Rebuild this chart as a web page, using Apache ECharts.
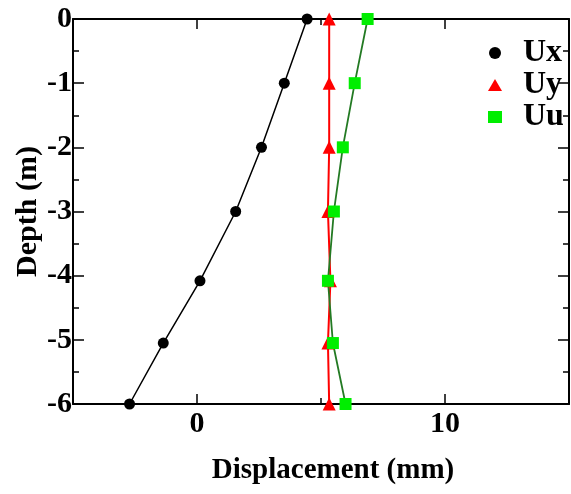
<!DOCTYPE html>
<html><head><meta charset="utf-8">
<script src="https://cdn.jsdelivr.net/npm/echarts@6/dist/echarts.min.js"></script>
<style>html,body{margin:0;padding:0;background:#fff}#c{width:571px;height:494px}</style>
</head><body><div id="c"></div>
<script>
const depths = [0, -1, -2, -3, -4.08, -5.05, -6];
const ux = [4.44, 3.52, 2.6, 1.56, 0.12, -1.36, -2.72];
const uy = [5.33, 5.33, 5.33, 5.28, 5.38, 5.28, 5.33];
const uu = [6.88, 6.36, 5.88, 5.52, 5.28, 5.48, 5.99];
const xMajorTicks = [0, 10];
const xMinorTicks = [5];
const xLabels = [0, 10];

const FONT = '"Liberation Serif", "DejaVu Serif", serif';
const pair = (xs) => xs.map((x, i) => [x, depths[i]]);
const gridRect = {left: 73, right: 2, top: 19, bottom: 90};
const lineStyle = {color: '#000', width: 2};
const axLine = {show: true, onZero: false, lineStyle};

const chart = echarts.init(document.getElementById('c'));
chart.setOption({
  backgroundColor: '#fff',
  animation: false,
  grid: [Object.assign({}, gridRect), Object.assign({}, gridRect)],
  xAxis: [
    {gridIndex: 0, type: 'value', position: 'bottom', min: -5, max: 15,
     axisLine: axLine, splitLine: {show: false},
     axisTick: {show: true, inside: true, length: 10, customValues: xMajorTicks, lineStyle: {color: '#000', width: 1.5}},
     axisLabel: {show: true, customValues: xLabels, margin: 5, color: '#000', fontFamily: FONT, fontWeight: 'bold', fontSize: 30},
     name: 'Displacement (mm)', nameLocation: 'middle', nameGap: 52,
     nameTextStyle: {color: '#000', fontFamily: FONT, fontWeight: 'bold', fontSize: 29, padding: [0, 0, 0, 24]}},
    {gridIndex: 0, type: 'value', position: 'top', min: -5, max: 15,
     axisLine: axLine, splitLine: {show: false},
     axisTick: {show: true, inside: true, length: 10, customValues: xMajorTicks, lineStyle: {color: '#000', width: 1.5}},
     axisLabel: {show: false}},
    {gridIndex: 1, type: 'value', position: 'bottom', min: -5, max: 15,
     axisLine: {show: false, onZero: false}, splitLine: {show: false},
     axisTick: {show: true, inside: true, length: 6, customValues: xMinorTicks, lineStyle: {color: '#000', width: 1.5}},
     axisLabel: {show: false}},
    {gridIndex: 1, type: 'value', position: 'top', min: -5, max: 15,
     axisLine: {show: false, onZero: false}, splitLine: {show: false},
     axisTick: {show: true, inside: true, length: 6, customValues: xMinorTicks, lineStyle: {color: '#000', width: 1.5}},
     axisLabel: {show: false}}
  ],
  yAxis: [
    {gridIndex: 0, type: 'value', position: 'left', min: -6, max: 0, interval: 1,
     axisLine: axLine, splitLine: {show: false},
     axisTick: {show: true, inside: true, length: 11, lineStyle: {color: '#000', width: 1.5}},
     minorTick: {show: true, splitNumber: 2, length: 6, lineStyle: {color: '#000', width: 1.5}},
     axisLabel: {show: true, margin: 1, color: '#000', fontFamily: FONT, fontWeight: 'bold', fontSize: 30},
     name: 'Depth (m)', nameLocation: 'middle', nameGap: 30, nameMoveOverlap: false,
     nameTextStyle: {color: '#000', fontFamily: FONT, fontWeight: 'bold', fontSize: 30}},
    {gridIndex: 0, type: 'value', position: 'right', min: -6, max: 0, interval: 1,
     axisLine: axLine, splitLine: {show: false},
     axisTick: {show: true, inside: true, length: 11, lineStyle: {color: '#000', width: 1.5}},
     minorTick: {show: true, splitNumber: 2, length: 6, lineStyle: {color: '#000', width: 1.5}},
     axisLabel: {show: false}},
    {gridIndex: 1, type: 'value', min: -6, max: 0, show: false}
  ],
  legend: {
    orient: 'vertical', left: 488, top: 37, itemGap: 0, itemWidth: 14, itemHeight: 12, padding: 0,
    textStyle: {color: '#000', fontFamily: FONT, fontWeight: 'bold', fontSize: 32, lineHeight: 28, padding: [0, 0, 0, 16]},
    data: [
      {name: 'Ux', icon: 'circle', itemStyle: {color: '#000'}},
      {name: 'Uy', icon: 'triangle', itemStyle: {color: '#ff0000'}},
      {name: 'Uu', icon: 'rect', itemStyle: {color: '#00ee00'}}
    ]
  },
  series: [
    {name: 'Ux', type: 'line', xAxisIndex: 0, yAxisIndex: 0, data: pair(ux),
     symbol: 'circle', symbolSize: 11, itemStyle: {color: '#000'},
     lineStyle: {color: '#000', width: 1.5}},
    {name: 'Uy', type: 'line', xAxisIndex: 0, yAxisIndex: 0, data: pair(uy),
     symbol: 'triangle', symbolSize: 13, itemStyle: {color: '#ff0000'},
     lineStyle: {color: '#ff0000', width: 2}},
    {name: 'Uu', type: 'line', xAxisIndex: 0, yAxisIndex: 0, data: pair(uu),
     symbol: 'rect', symbolSize: 12, itemStyle: {color: '#00ee00'},
     lineStyle: {color: '#237a23', width: 1.8}}
  ]
});
</script></body></html>
